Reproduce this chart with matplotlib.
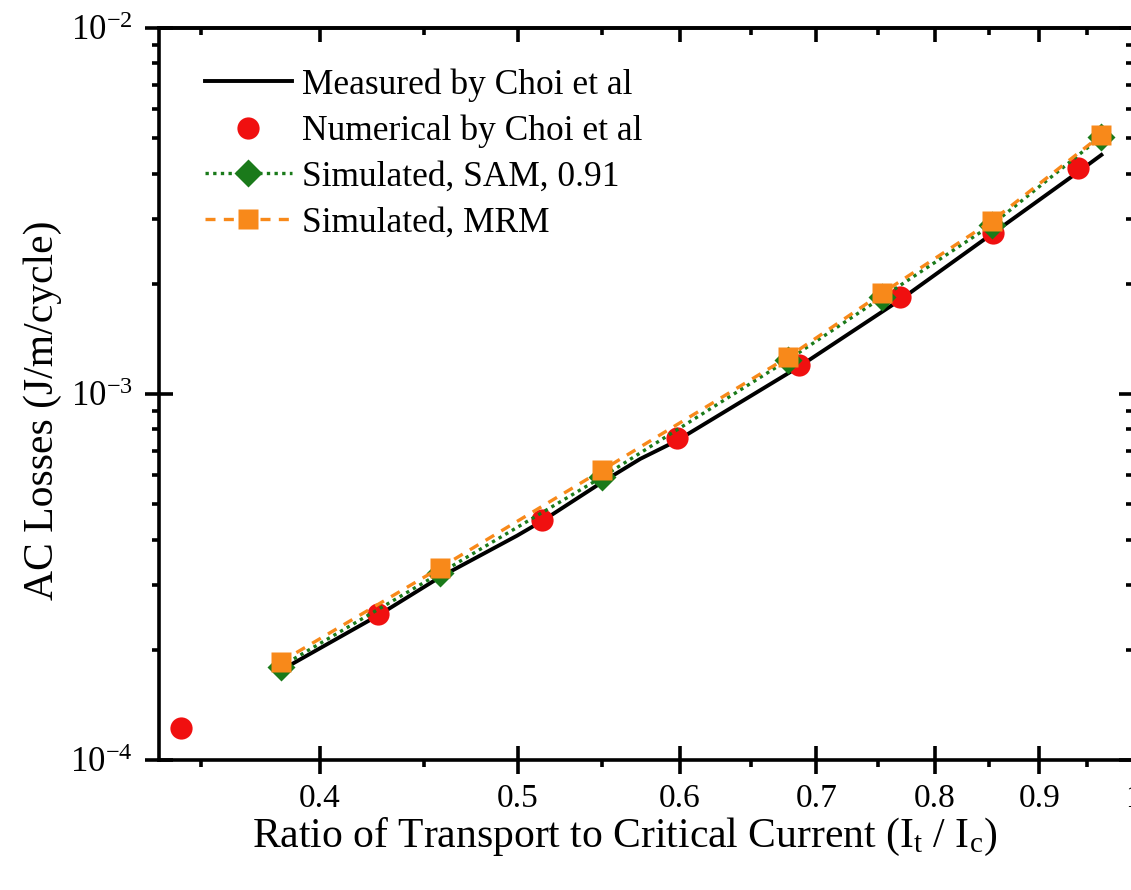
import numpy as np
import matplotlib
matplotlib.use('Agg')
import matplotlib.pyplot as plt
from matplotlib.ticker import FixedLocator, NullFormatter, LogLocator, FuncFormatter

# data (log-log axes)
meas_x = [0.385, 0.427, 0.458, 0.4995, 0.514, 0.55, 0.574, 0.598, 0.686, 0.769, 0.854, 0.94, 0.965]
meas_y = [1.79e-4, 2.48e-4, 3.16e-4, 4.10e-4, 4.50e-4, 5.75e-4, 6.65e-4, 7.45e-4, 1.185e-3, 1.806e-3, 2.75e-3, 4.04e-3, 4.5e-3]

num_x = [0.342, 0.427, 0.514, 0.598, 0.686, 0.769, 0.854, 0.940]
num_y = [1.223e-4, 2.506e-4, 4.53e-4, 7.58e-4, 1.20e-3, 1.84e-3, 2.75e-3, 4.14e-3]

sim_x = [0.3827, 0.458, 0.550, 0.678, 0.754, 0.853, 0.965]
sam_y = [1.80e-4, 3.24e-4, 5.94e-4, 1.24e-3, 1.84e-3, 2.90e-3, 5.05e-3]
mrm_y = [1.853e-4, 3.35e-4, 6.20e-4, 1.262e-3, 1.888e-3, 2.97e-3, 5.10e-3]

labels = ['Measured by Choi et al', 'Numerical by Choi et al',
          'Simulated, SAM, 0.91', 'Simulated, MRM']

xmajor = [0.4, 0.5, 0.6, 0.7, 0.8, 0.9, 1.0]
xminor = [0.35, 0.45, 0.55, 0.65, 0.75, 0.85, 0.95]

plt.rcParams['font.family'] = 'Liberation Serif'
plt.rcParams['mathtext.fontset'] = 'custom'
plt.rcParams['mathtext.rm'] = 'Liberation Serif'
plt.rcParams['mathtext.it'] = 'Liberation Serif:italic'

lw_ax = 2.6

fig = plt.figure(figsize=(11.31, 8.9), dpi=100)
ax = fig.add_axes([159/1131, 130/890, 974/1131, 732/890])

ax.plot(meas_x, meas_y, color='black', lw=2.8, label=labels[0], zorder=2)
ax.plot(num_x, num_y, 'o', color='#f01010', ms=16, mec='none', label=labels[1], zorder=3)
ax.plot(sim_x, sam_y, color='#1a7a1a', lw=2.4, ls=(0, (1, 1.3)), marker='D', ms=14,
        mec='none', label=labels[2], zorder=4)
ax.plot(sim_x, mrm_y, color='#f8891a', lw=2.4, ls=(0, (3, 2.5)), marker='s', ms=15,
        mec='none', label=labels[3], zorder=5)

ax.set_xscale('log')
ax.set_yscale('log')
ax.set_xlim(0.3337, 1.0)
ax.set_ylim(1e-4, 1e-2)

ax.xaxis.set_major_locator(FixedLocator(xmajor))
ax.xaxis.set_major_formatter(FuncFormatter(lambda v, p: '%g' % v))
ax.xaxis.set_minor_locator(FixedLocator(xminor))
ax.xaxis.set_minor_formatter(NullFormatter())
ax.yaxis.set_major_locator(LogLocator(base=10))
ax.yaxis.set_major_formatter(FuncFormatter(lambda v, p: r'$10^{%d}$' % round(np.log10(v))))
ax.yaxis.set_minor_locator(LogLocator(base=10, subs=np.arange(2, 10)))
ax.yaxis.set_minor_formatter(NullFormatter())

for s in ax.spines.values():
    s.set_linewidth(lw_ax)

ax.tick_params(which='major', direction='inout', length=20, width=lw_ax, labelsize=24,
               top=False, right=False)
ax.tick_params(axis='x', which='major', pad=7)
ax.tick_params(axis='y', which='major', pad=9, labelsize=25)
ax.tick_params(which='minor', direction='out', length=5, width=lw_ax, top=False, right=False)

# top and right axes: inward ticks, no labels
top = ax.secondary_xaxis('top', functions=(lambda v: v, lambda v: v))
top.xaxis.set_major_locator(FixedLocator(xmajor))
top.xaxis.set_minor_locator(FixedLocator(xminor))
top.xaxis.set_major_formatter(NullFormatter())
top.xaxis.set_minor_formatter(NullFormatter())
top.tick_params(which='major', direction='in', length=10, width=lw_ax)
top.tick_params(which='minor', direction='in', length=5, width=lw_ax)
top.spines['top'].set_linewidth(lw_ax)

right = ax.secondary_yaxis('right', functions=(lambda v: v, lambda v: v))
right.yaxis.set_major_locator(LogLocator(base=10))
right.yaxis.set_minor_locator(LogLocator(base=10, subs=np.arange(2, 10)))
right.yaxis.set_major_formatter(NullFormatter())
right.yaxis.set_minor_formatter(NullFormatter())
right.tick_params(which='major', direction='in', length=10, width=lw_ax)
right.tick_params(which='minor', direction='in', length=5, width=lw_ax)
right.spines['right'].set_linewidth(lw_ax)

ax.set_xlabel(r'Ratio of Transport to Critical Current (I$_\mathrm{t}$ / I$_\mathrm{c}$)', fontsize=30)
ax.set_ylabel('AC Losses (J/m/cycle)', fontsize=30)
ax.xaxis.set_label_coords(0.478, -0.077)
ax.yaxis.set_label_coords(-0.100, 0.478)

ax.legend(loc='upper left', bbox_to_anchor=(0.047, 0.945), frameon=False, fontsize=25.5,
          handlelength=2.45, handletextpad=0.3, labelspacing=0.36, numpoints=1,
          borderaxespad=0, borderpad=0)

fig.savefig('out.png', dpi=100)
